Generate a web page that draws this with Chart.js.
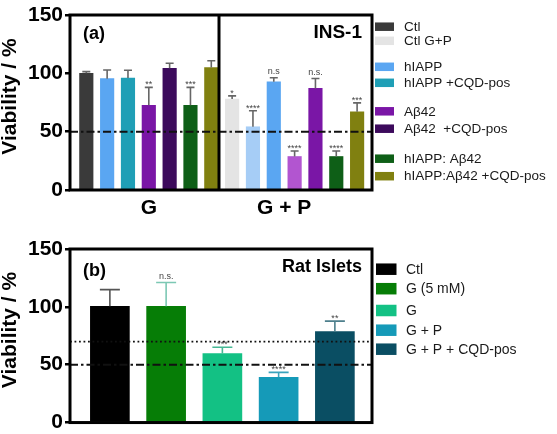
<!DOCTYPE html>
<html>
<head>
<meta charset="utf-8">
<script src="https://cdn.jsdelivr.net/npm/chart.js@4.4.1/dist/chart.umd.min.js"></script>
<style>
  html, body { margin: 0; padding: 0; background: #fff; overflow: hidden; }
  .panel { position: absolute; left: 0; width: 557px; }
  #panelA { top: 0; height: 228px; }
  #panelB { top: 228px; height: 206px; }
</style>
</head>
<body>
<div class="panel" id="panelA"><canvas id="chartA"></canvas></div>
<div class="panel" id="panelB"><canvas id="chartB"></canvas></div>
<script>
// (a) INS-1 cells, two treatment groups of seven bars
const insGroups = ['G', 'G + P'];
const insValuesG = [100, 95.4, 96, 72.6, 104.3, 72.6, 104.9];
const insErrorsG = [1.5, 7.5, 6.6, 15.4, 4.3, 15.4, 5.9];
const insSigG = ['', '', '', '**', '', '***', ''];
const insValuesGP = [78, 54.2, 92.8, 28.7, 87.1, 28.7, 67.1];
const insErrorsGP = [2.7, 13.7, 3.4, 4.7, 8.5, 4.7, 7.6];
const insSigGP = ['*', '****', 'n.s', '****', 'n.s.', '****', '***'];
const insColorsG = ['#3a3a3a', '#5aa6f2', '#1f9fb6', '#7a16a6', '#3c0a5c', '#0e5f17', '#808010'];
const insColorsGP = ['#e4e4e4', '#a6cdf6', '#5aa6f2', '#b255d0', '#7a16a6', '#0e5f17', '#808010'];
const insLegendLabels = ['Ctl', 'Ctl G+P', 'hIAPP', 'hIAPP +CQD-pos', 'A\u03b242', 'A\u03b242  +CQD-pos', 'hIAPP: A\u03b242', 'hIAPP:A\u03b242 +CQD-pos'];
const insLegendColors = ['#3a3a3a', '#e4e4e4', '#5aa6f2', '#1f9fb6', '#7a16a6', '#3c0a5c', '#0e5f17', '#808010'];

// (b) rat islets
const isletCategories = ['Ctl', 'G (5 mM)', 'G', 'G + P', 'G + P + CQD-pos'];
const isletValues = [100.5, 100.5, 59.7, 39.1, 78.6];
const isletErrors = [14.4, 20.6, 5.4, 4.3, 9.1];
const isletSig = ['', 'n.s.', '***', '****', '**'];
const isletColors = ['#000000', '#067d06', '#13c184', '#159ab8', '#0a4e63'];
const isletErrorColors = ['#555555', '#7cc8b4', '#45b894', '#3aa3bd', '#4d7f8c'];

const yTicks = [0, 50, 100, 150];
const FONT = 'Arial, "Liberation Sans", sans-serif';

const panelExtras = {
  id: 'panelExtras',
  afterDatasetsDraw(chart, args, o) {
    const { ctx, chartArea: a, scales: { x, y } } = chart;
    const bars = chart.getDatasetMeta(0).data;
    ctx.save();

    o.refLines.forEach((line) => {
      const py = y.getPixelForValue(line.value);
      ctx.setLineDash(line.dash);
      ctx.lineWidth = line.width;
      ctx.strokeStyle = '#111';
      ctx.beginPath();
      ctx.moveTo(a.left, py);
      ctx.lineTo(a.right, py);
      ctx.stroke();
    });
    ctx.setLineDash([]);

    bars.forEach((bar, i) => {
      const top = y.getPixelForValue(o.values[i] + o.errors[i]);
      const base = y.getPixelForValue(o.values[i]);
      ctx.strokeStyle = o.errorColors[i];
      ctx.lineWidth = 1.6;
      ctx.beginPath();
      ctx.moveTo(bar.x, base);
      ctx.lineTo(bar.x, top);
      ctx.moveTo(bar.x - o.cap / 2, top);
      ctx.lineTo(bar.x + o.cap / 2, top);
      ctx.stroke();
      const s = o.sig[i];
      if (s) {
        ctx.fillStyle = '#444';
        ctx.font = `9px ${FONT}`;
        ctx.textAlign = 'center';
        ctx.textBaseline = 'alphabetic';
        // asterisks sit high in the em box, so their baseline goes lower
        ctx.fillText(s, bar.x, top - (/^\*+$/.test(s) ? 0 : 3.5));
      }
    });

    ctx.strokeStyle = '#000';
    ctx.lineWidth = 3;
    ctx.strokeRect(a.left, a.top, a.right - a.left, a.bottom - a.top);
    if (o.divider !== undefined) {
      const px = x.getPixelForValue(o.divider);
      ctx.beginPath();
      ctx.moveTo(px, a.top);
      ctx.lineTo(px, a.bottom);
      ctx.stroke();
    }

    ctx.fillStyle = '#000';
    ctx.font = `bold 18px ${FONT}`;
    ctx.textBaseline = 'middle';
    ctx.textAlign = 'left';
    ctx.fillText(o.tag, a.left + 13, o.tagY);
    ctx.font = `bold ${o.nameSize}px ${FONT}`;
    ctx.textAlign = 'right';
    ctx.fillText(o.name, a.right - 10, o.nameY);

    ctx.font = `${o.legend.size}px ${FONT}`;
    ctx.textAlign = 'left';
    o.legend.labels.forEach((label, i) => {
      const ry = o.legend.rows[i];
      ctx.fillStyle = o.legend.colors[i];
      ctx.fillRect(o.legend.x, ry - o.legend.h / 2, o.legend.w, o.legend.h);
      ctx.fillStyle = '#1a1a1a';
      ctx.fillText(label, o.legend.textX, ry + 0.5);
    });

    ctx.translate(10.5, o.titleY);
    ctx.rotate(-Math.PI / 2);
    ctx.font = `bold 21px ${FONT}`;
    ctx.textAlign = 'center';
    ctx.fillStyle = '#000';
    ctx.fillText('Viability / %', 0, 0);
    ctx.restore();
  }
};

function yScale() {
  return {
    min: 0,
    max: 150,
    afterBuildTicks: (s) => { s.ticks = yTicks.map((v) => ({ value: v })); },
    afterFit: (s) => { s.width = 70; },
    ticks: { color: '#000', padding: 2, font: { family: FONT, size: 21, weight: 'bold', lineHeight: 0.9 } },
    grid: { drawOnChartArea: false, drawTicks: true, tickLength: 5, lineWidth: 2.5, color: '#000' },
    border: { display: false }
  };
}

const insValues = insValuesG.concat(insValuesGP);
const insErrors = insErrorsG.concat(insErrorsGP);

new Chart(document.getElementById('chartA'), {
  type: 'bar',
  data: {
    datasets: [{
      data: insValues.map((v, i) => ({ x: i, y: v })),
      backgroundColor: insColorsG.concat(insColorsGP),
      barThickness: 13.5,
      borderWidth: 0
    }]
  },
  options: {
    responsive: true,
    maintainAspectRatio: false,
    animation: false,
    devicePixelRatio: 1,
    layout: { padding: { top: 15, right: 185, left: 0, bottom: 0 } },
    scales: {
      x: {
        type: 'linear',
        offset: false,
        min: -0.783,
        max: 13.715,
        afterBuildTicks: (s) => { s.ticks = [3, 9.5].map((v) => ({ value: v })); },
        afterFit: (s) => { s.height = 38; },
        ticks: {
          color: '#000', padding: 6, maxRotation: 0, autoSkip: false,
          font: { family: FONT, size: 21, weight: 'bold' },
          callback: (v, i) => insGroups[i]
        },
        grid: { display: false, drawTicks: false },
        border: { display: false }
      },
      y: yScale()
    },
    plugins: {
      legend: { display: false },
      tooltip: { enabled: false },
      panelExtras: {
        values: insValues,
        errors: insErrors,
        sig: insSigG.concat(insSigGP),
        errorColors: insValues.map(() => '#666'),
        cap: 8,
        divider: 6.37,
        refLines: [{ value: 50, dash: [8, 3, 2.5, 3], width: 2 }],
        tag: '(a)', tagY: 34,
        name: 'INS-1', nameSize: 19, nameY: 33,
        titleY: 96.5,
        legend: {
          labels: insLegendLabels, colors: insLegendColors,
          rows: [26.7, 40.8, 66.8, 82.8, 111.3, 128.7, 158.7, 176.2],
          x: 375, w: 19, h: 8.5, textX: 404, size: 13.5
        }
      }
    }
  },
  plugins: [panelExtras]
});

new Chart(document.getElementById('chartB'), {
  type: 'bar',
  data: {
    labels: isletCategories,
    datasets: [{
      data: isletValues.map((v, i) => ({ x: i, y: v })),
      backgroundColor: isletColors,
      barThickness: 39,
      borderWidth: 0
    }]
  },
  options: {
    responsive: true,
    maintainAspectRatio: false,
    animation: false,
    devicePixelRatio: 1,
    layout: { padding: { top: 21, right: 185, left: 0, bottom: 10 } },
    scales: {
      x: { type: 'linear', offset: false, min: -0.709, max: 4.66, display: false },
      y: yScale()
    },
    plugins: {
      legend: { display: false },
      tooltip: { enabled: false },
      panelExtras: {
        values: isletValues,
        errors: isletErrors,
        sig: isletSig,
        errorColors: isletErrorColors,
        cap: 20,
        refLines: [
          { value: 70, dash: [1.8, 2.7], width: 1.8 },
          { value: 50, dash: [8, 3, 2.5, 3], width: 2 }
        ],
        tag: '(b)', tagY: 43,
        name: 'Rat Islets', nameSize: 18, nameY: 39,
        titleY: 102,
        legend: {
          labels: isletCategories, colors: isletColors,
          rows: [41.2, 60.7, 82.5, 102.2, 121.2],
          x: 376, w: 20.5, h: 11.5, textX: 406, size: 14
        }
      }
    }
  },
  plugins: [panelExtras]
});
</script>
</body>
</html>
